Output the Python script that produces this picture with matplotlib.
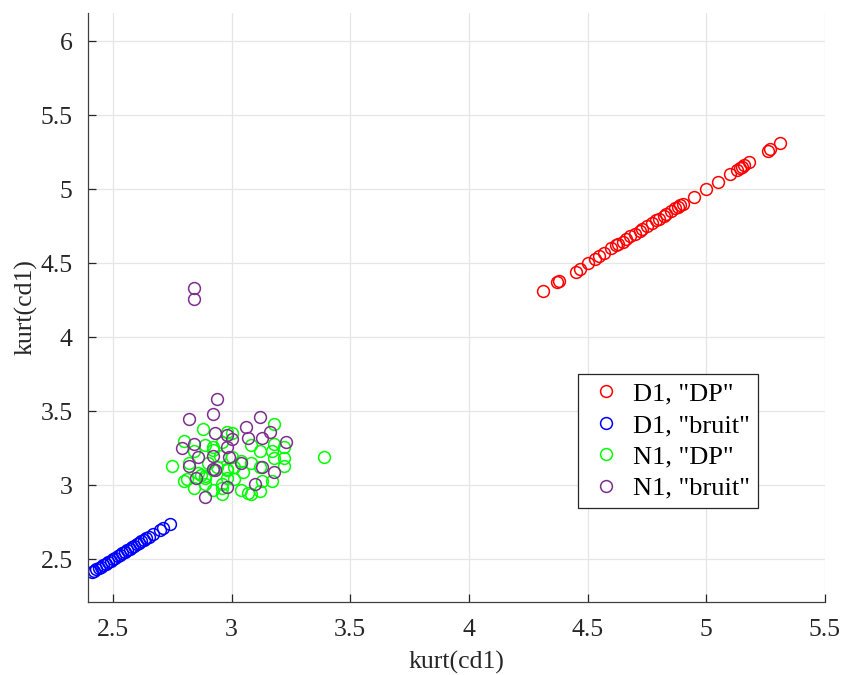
import matplotlib
matplotlib.use('Agg')
import matplotlib.pyplot as plt

# D1, "DP" (kurt along both axes, nearly y = x)
d1_dp_x = [4.31, 4.37, 4.38, 4.45, 4.47, 4.50, 4.53, 4.55, 4.57, 4.60, 4.62,
           4.63, 4.65, 4.66, 4.68, 4.70, 4.72, 4.73, 4.75, 4.77, 4.79, 4.80,
           4.82, 4.83, 4.85, 4.87, 4.88, 4.89, 4.90, 4.95, 5.00, 5.05, 5.10,
           5.13, 5.14, 5.15, 5.16, 5.18, 5.26, 5.27, 5.31]
d1_dp_y = [4.31, 4.37, 4.38, 4.44, 4.46, 4.50, 4.53, 4.55, 4.57, 4.60, 4.62,
           4.63, 4.64, 4.66, 4.68, 4.70, 4.72, 4.73, 4.75, 4.77, 4.79, 4.80,
           4.82, 4.83, 4.85, 4.87, 4.88, 4.89, 4.90, 4.95, 5.00, 5.05, 5.10,
           5.13, 5.14, 5.15, 5.16, 5.18, 5.26, 5.27, 5.31]

# D1, "bruit"
d1_br_x = [2.41, 2.42, 2.43, 2.44, 2.45, 2.46, 2.47, 2.48, 2.49, 2.50, 2.51,
           2.52, 2.53, 2.54, 2.55, 2.56, 2.57, 2.58, 2.59, 2.60, 2.61, 2.62,
           2.63, 2.64, 2.65, 2.67, 2.70, 2.71, 2.74]
d1_br_y = [2.41, 2.42, 2.43, 2.44, 2.45, 2.46, 2.47, 2.48, 2.49, 2.50, 2.51,
           2.52, 2.53, 2.54, 2.55, 2.56, 2.57, 2.58, 2.59, 2.60, 2.61, 2.62,
           2.63, 2.64, 2.65, 2.67, 2.70, 2.71, 2.74]

# N1, "DP"
n1_dp_x = [2.75, 2.80, 2.81, 2.84, 2.88, 2.89, 2.84, 2.82, 2.86, 2.89, 2.92,
           2.96, 2.96, 2.92, 2.96, 3.00, 2.98, 2.95, 2.90, 2.94, 2.98, 3.01,
           3.01, 3.05, 3.04, 3.08, 3.08, 3.12, 3.12, 3.13, 3.17, 3.18, 3.18,
           3.17, 3.18, 3.22, 3.22, 3.22, 3.39, 2.87, 2.89, 2.89, 2.92, 2.98,
           3.00, 3.04, 2.96, 2.98, 2.80, 2.92, 3.08, 3.12, 3.07]
n1_dp_y = [3.13, 3.30, 3.04, 2.98, 3.38, 3.27, 3.23, 3.15, 3.08, 3.05, 2.97,
           2.94, 2.98, 3.26, 3.29, 3.35, 3.36, 3.20, 3.15, 3.12, 3.10, 3.12,
           3.04, 3.09, 2.97, 2.94, 3.15, 3.23, 3.12, 3.03, 3.03, 3.41, 3.28,
           3.23, 3.18, 3.18, 3.13, 3.26, 3.19, 3.07, 3.06, 3.01, 3.10, 3.11,
           3.19, 3.16, 3.01, 3.05, 3.03, 3.24, 3.27, 2.96, 2.95]

# N1, "bruit"
n1_br_x = [2.84, 2.84, 2.94, 2.92, 2.82, 3.12, 3.06, 2.93, 2.98, 3.00, 3.07,
           3.16, 3.13, 3.23, 2.79, 2.84, 2.98, 2.86, 2.92, 2.99, 2.82, 3.04,
           2.92, 2.93, 3.13, 3.18, 2.85, 2.98, 3.10, 2.89]
n1_br_y = [4.33, 4.26, 3.58, 3.48, 3.45, 3.46, 3.39, 3.35, 3.34, 3.31, 3.32,
           3.36, 3.32, 3.29, 3.25, 3.28, 3.26, 3.19, 3.20, 3.19, 3.13, 3.15,
           3.11, 3.10, 3.12, 3.09, 3.05, 2.99, 3.01, 2.92]

plt.rcParams['font.family'] = ['Liberation Serif', 'DejaVu Serif']
plt.rcParams['font.size'] = 18

fig = plt.figure(figsize=(8.43, 6.75), dpi=100)
ax = fig.add_axes([0.1044, 0.1081, 0.8742, 0.8726])

mk = dict(linestyle='none', marker='o', markersize=8.5,
          markerfacecolor='none', markeredgewidth=1.1)
ax.plot(d1_dp_x, d1_dp_y, markeredgecolor='#ff0000', label='D1, "DP"', **mk)
ax.plot(d1_br_x, d1_br_y, markeredgecolor='#0000ff', label='D1, "bruit"', **mk)
ax.plot(n1_dp_x, n1_dp_y, markeredgecolor='#00ff00', label='N1, "DP"', **mk)
ax.plot(n1_br_x, n1_br_y, markeredgecolor='#7e2f8e', label='N1, "bruit"', **mk)

ax.set_xlim(2.395, 5.5)
ax.set_ylim(2.21, 6.19)
ax.set_xticks([2.5, 3, 3.5, 4, 4.5, 5, 5.5])
ax.set_xticklabels(['2.5', '3', '3.5', '4', '4.5', '5', '5.5'])
ax.set_yticks([2.5, 3, 3.5, 4, 4.5, 5, 5.5, 6])
ax.set_yticklabels(['2.5', '3', '3.5', '4', '4.5', '5', '5.5', '6'])

ax.grid(True, color='#e6e6e6', linewidth=0.9)
ax.set_axisbelow(True)
for s in ['top', 'right']:
    ax.spines[s].set_visible(False)
for s in ['left', 'bottom']:
    ax.spines[s].set_color('#404040')
    ax.spines[s].set_linewidth(0.9)
ax.tick_params(direction='in', length=6, width=0.9, colors='#262626',
               labelsize=18.5)
ax.tick_params(axis='x', pad=12)
ax.tick_params(axis='y', pad=11)

ax.set_xlabel('kurt(cd1)', fontsize=18.5, color='#262626', labelpad=7)
ax.set_ylabel('kurt(cd1)', fontsize=18.5, color='#262626', labelpad=2)

leg = ax.legend(loc='lower left', bbox_to_anchor=(0.665, 0.16), fontsize=19,
                fancybox=False, edgecolor='#262626', framealpha=1,
                borderaxespad=0, handletextpad=0.25, borderpad=0.3,
                labelspacing=0.3, handlelength=1.55)
leg.get_frame().set_linewidth(0.9)

fig.savefig('out.png', dpi=100)
